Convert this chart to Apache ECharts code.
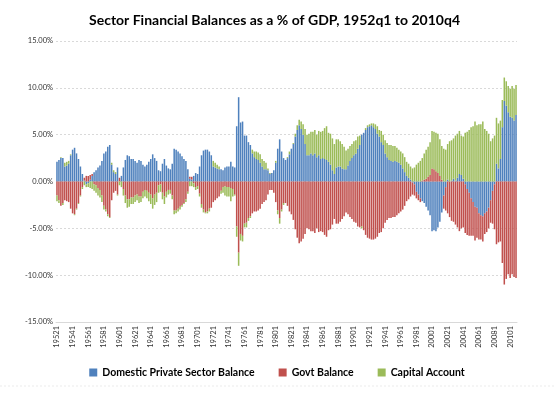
<!DOCTYPE html>
<html>
<head>
<meta charset="utf-8">
<script src="https://cdn.jsdelivr.net/npm/echarts/dist/echarts.min.js"></script>
<style>
  html, body { margin: 0; padding: 0; background: #fff; }
  #chart { width: 554px; height: 399px; }
</style>
</head>
<body>
<div id="chart"></div>
<script>
// quarters 1952q1 .. 2010q4, label = year + quarter number
const categories = []
for (let y = 1952; y <= 2010; y++) {
  for (let q = 1; q <= 4; q++) categories.push(String(y) + q)
}

// % of GDP, one row per year (q1..q4)
const privateBalance = [
  2.1, 2.3, 2.5, 2.5,   1.6, 1.7, 1.9, 2.8,   3.4, 3.6, 3.0, 2.4,   1.6, 0.8, 0.1, -0.3,
  -0.2, 0.2, 0.6, 1.0,  1.2, 1.5, 1.7, 2.2,   3.0, 3.2, 3.7, 3.9,   1.8, 1.0, 0.8, 1.5,
  0.0, 0.6, 1.5, 2.3,   2.8, 2.7, 2.4, 2.4,   2.2, 2.0, 2.3, 2.2,   1.8, 1.6, 1.8, 2.1,
  2.4, 2.9, 2.5, 2.2,   1.2, 1.1, 1.9, 2.4,   1.7, 1.4, 1.3, 1.9,   3.5, 3.4, 3.2, 3.0,
  2.7, 2.4, 2.2, 1.3,   0.3, 0.2, 0.6, 0.9,   0.8, 1.6, 2.8, 3.3,   3.4, 3.4, 3.2, 2.8,
  1.6, 1.5, 1.4, 1.3,   1.3, 1.2, 1.5, 1.6,   1.6, 2.1, 1.6, 1.5,   5.9, 9.0, 6.3, 6.4,
  4.9, 4.9, 4.2, 3.9,   3.0, 2.6, 2.4, 2.3,   2.0, 1.6, 1.3, 1.3,   1.2, 0.8, 0.9, 1.2,
  2.0, 3.5, 4.5, 3.2,   2.5, 2.3, 2.5, 2.9,   3.5, 4.0, 4.8, 5.5,   6.0, 5.6, 5.0, 4.0,
  2.8, 2.8, 3.0, 2.8,   3.0, 2.6, 2.8, 2.4,   2.5, 2.4, 2.3, 2.1,   1.8, 1.2, 0.8, 1.5,
  1.6, 1.6, 1.4, 1.3,   1.3, 1.7, 2.2, 2.5,   2.8, 3.0, 3.5, 3.9,   5.0, 5.2, 5.5, 5.8,
  5.9, 6.0, 5.8, 5.6,   5.1, 4.8, 4.2, 3.9,   3.0, 2.6, 2.3, 2.2,   2.1, 2.2, 2.1, 2.0,
  1.8, 1.4, 1.0, 0.6,   0.4, 0.2, -0.1, -0.3, -1.1, -1.4, -1.8, -2.1, -2.3, -2.7, -3.1, -3.6,
  -5.3, -5.2, -5.3, -4.9, -4.3, -3.3, -1.5, -0.6, 0.2, 0.0, 0.1, 0.3, 0.1, 0.4, 0.8, 0.7,
  0.3, -0.3, -0.8, -1.2, -1.8, -2.2, -2.7, -2.8, -3.4, -3.6, -3.7, -3.4, -3.2, -2.8, -2.0, -1.0,
  -0.3, 1.9, 1.4, 2.4,  5.8, 8.6, 8.1, 7.4,   6.9, 6.8, 6.5, 7.1
]

const govtBalance = [
  -1.5, -2.0, -2.6, -2.3, -2.0, -2.1, -2.2, -2.9, -3.4, -3.5, -2.9, -2.3, -1.5, -0.6, 0.3, 0.6,
  0.6, 0.5, 0.2, -0.3,  -0.4, -0.7, -0.9, -1.5, -2.6, -3.0, -3.5, -3.8, -2.0, -1.2, -1.0, -1.4,
  0.4, 0.0, -0.8, -1.5, -1.9, -1.9, -1.7, -1.7, -1.5, -1.4, -1.6, -1.6, -1.1, -0.9, -1.0, -1.2,
  -1.4, -1.8, -1.4, -1.2, -0.4, -0.3, -1.2, -1.6, -1.1, -0.9, -0.9, -1.5, -3.1, -3.1, -2.9, -2.7,
  -2.5, -2.3, -1.9, -1.1, 0.2, 0.3, -0.2, -0.6, -0.5, -1.3, -2.4, -3.0, -3.3, -3.2, -2.9, -2.8,
  -2.2, -2.0, -1.8, -1.6, -1.0, -0.6, -0.5, -0.6, -0.6, -0.7, -0.8, -1.4, -4.8, -7.6, -5.6, -5.8,
  -4.5, -4.4, -3.9, -3.7, -3.4, -3.2, -3.2, -3.1, -2.9, -2.4, -2.2, -2.0, -1.4, -0.9, -0.9, -1.2,
  -2.2, -3.1, -3.9, -3.0, -2.3, -2.3, -2.6, -3.2, -3.5, -4.1, -5.1, -6.0, -6.6, -6.4, -6.1, -5.6,
  -5.0, -5.1, -5.3, -5.3, -5.5, -5.0, -5.4, -5.3, -5.4, -5.7, -5.9, -5.2, -5.1, -4.6, -4.0, -4.5,
  -4.5, -4.3, -4.0, -3.7, -3.3, -3.5, -3.8, -4.0, -4.3, -4.4, -4.8, -4.9, -4.8, -5.2, -5.7, -6.0,
  -6.1, -6.2, -6.2, -6.1, -5.9, -5.5, -5.4, -5.0, -4.4, -4.1, -3.9, -3.9, -3.8, -3.8, -3.6, -3.4,
  -3.2, -3.0, -2.6, -2.1, -1.9, -1.6, -1.3, -1.2, -0.7, -0.6, -0.4, 0.1, 0.2, 0.3, 0.5, 0.7,
  1.4, 1.3, 1.1, 0.9,   0.6, 0.2, -1.4, -2.5, -3.4, -3.8, -4.2, -4.3, -4.6, -4.9, -5.3, -5.0,
  -4.9, -5.2, -4.9, -4.6, -4.0, -3.6, -3.6, -3.2, -2.8, -2.6, -2.7, -2.2, -2.2, -2.2, -2.4, -3.5,
  -4.8, -6.7, -6.5, -6.4, -8.7, -11.0, -10.4, -9.9, -10.3, -9.9, -10.2, -10.3
]

const capitalAccount = [
  -0.6, -0.3, 0.1, -0.2, 0.4, 0.4, 0.3, 0.1,  0.0, -0.1, -0.1, -0.1, -0.1, -0.2, -0.4, -0.3,
  -0.4, -0.7, -0.8, -0.7, -0.8, -0.8, -0.8, -0.7, -0.4, -0.2, -0.2, -0.1, 0.2, 0.2, 0.2, -0.1,
  -0.4, -0.6, -0.7, -0.8, -0.9, -0.8, -0.7, -0.7, -0.7, -0.6, -0.7, -0.6, -0.7, -0.7, -0.8, -0.9,
  -1.0, -1.1, -1.1, -1.0, -0.8, -0.8, -0.7, -0.8, -0.6, -0.5, -0.4, -0.4, -0.4, -0.3, -0.3, -0.3,
  -0.2, -0.1, -0.3, -0.2, -0.5, -0.5, -0.4, -0.3, -0.3, -0.3, -0.4, -0.3, -0.1, -0.2, -0.3, 0.0,
  0.6, 0.5, 0.4, 0.3,   -0.3, -0.6, -1.0, -1.0, -1.0, -1.4, -0.8, -0.1, -1.1, -1.4, -0.7, -0.6,
  -0.4, -0.5, -0.3, -0.2, 0.4, 0.6, 0.8, 0.8,  0.9, 0.8, 0.9, 0.7,   0.2, 0.1, 0.0, 0.0,
  0.2, -0.4, -0.6, -0.2, -0.2, 0.0, 0.1, 0.3,  0.0, 0.1, 0.3, 0.5,   0.6, 0.8, 1.1, 1.6,
  2.2, 2.3, 2.3, 2.5,   2.5, 2.4, 2.6, 2.9,   2.9, 3.3, 3.6, 3.1,   3.3, 3.4, 3.2, 3.0,
  2.9, 2.7, 2.6, 2.4,   2.0, 1.8, 1.6, 1.5,   1.5, 1.4, 1.3, 1.0,   -0.2, 0.0, 0.2, 0.2,
  0.2, 0.2, 0.4, 0.5,   0.8, 0.7, 1.2, 1.1,   1.4, 1.5, 1.6, 1.7,   1.7, 1.6, 1.5, 1.4,
  1.4, 1.6, 1.6, 1.5,   1.5, 1.4, 1.4, 1.5,   1.8, 2.0, 2.2, 2.4,   2.8, 3.1, 3.2, 3.5,
  4.0, 4.0, 4.1, 4.2,   3.9, 3.6, 3.5, 3.4,   3.8, 4.3, 4.3, 4.3,   4.8, 4.7, 4.6, 4.2,
  4.5, 5.2, 5.3, 5.5,   5.8, 5.9, 6.4, 6.0,   6.1, 6.1, 6.4, 5.6,   5.4, 5.1, 4.3, 4.6,
  4.9, 4.9, 4.8, 4.1,   2.9, 2.5, 2.6, 2.8,   3.0, 3.4, 3.4, 3.2
]

const yTicks = { min: -15, max: 15, interval: 5 }

const font = 'Lato, "Liberation Sans", sans-serif'

const chart = echarts.init(document.getElementById('chart'), null, { renderer: 'canvas' })

const barSeries = (name, data, color) => ({
  name: name,
  type: 'bar',
  stack: 'total',
  data: data,
  barCategoryGap: '22%',
  itemStyle: { color: color },
  emphasis: { disabled: true }
})

chart.setOption({
  animation: false,
  title: {
    text: 'Sector Financial Balances as a % of GDP, 1952q1 to 2010q4',
    left: 84,
    top: 8,
    textStyle: { fontFamily: font, fontSize: 14, fontWeight: 'bold', color: '#000' }
  },
  grid: {
    left: 56,
    right: 37,
    top: 41,
    bottom: 77
  },
  legend: {
    bottom: 16,
    left: 'center',
    icon: 'rect',
    itemWidth: 8,
    itemHeight: 8,
    itemGap: 24,
    textStyle: { fontFamily: font, fontSize: 10.5, fontWeight: 'bold', color: '#000' },
    data: ['Domestic Private Sector Balance', 'Govt Balance', 'Capital Account']
  },
  xAxis: {
    type: 'category',
    data: categories,
    axisLine: { onZero: false, lineStyle: { color: '#d9d9d9' } },
    axisTick: { show: false },
    axisLabel: {
      interval: 7,
      rotate: 90,
      margin: 4,
      fontFamily: font,
      fontSize: 7.5,
      color: '#333'
    }
  },
  yAxis: {
    type: 'value',
    min: yTicks.min,
    max: yTicks.max,
    interval: yTicks.interval,
    axisLine: { show: false },
    axisTick: { show: false },
    axisLabel: {
      margin: 3,
      fontFamily: font,
      fontSize: 7.5,
      color: '#333',
      formatter: v => v.toFixed(2) + '%'
    },
    splitLine: { lineStyle: { color: '#d9d9d9', type: [2, 2] } }
  },
  graphic: [{
    type: 'line',
    shape: { x1: 0, y1: 386, x2: 554, y2: 386 },
    style: { stroke: '#ececec', lineDash: [2, 2] }
  }],
  series: [
    barSeries('Domestic Private Sector Balance', privateBalance, '#4F81BD'),
    barSeries('Govt Balance', govtBalance, '#C0504D'),
    barSeries('Capital Account', capitalAccount, '#9BBB59')
  ]
})
</script>
</body>
</html>
